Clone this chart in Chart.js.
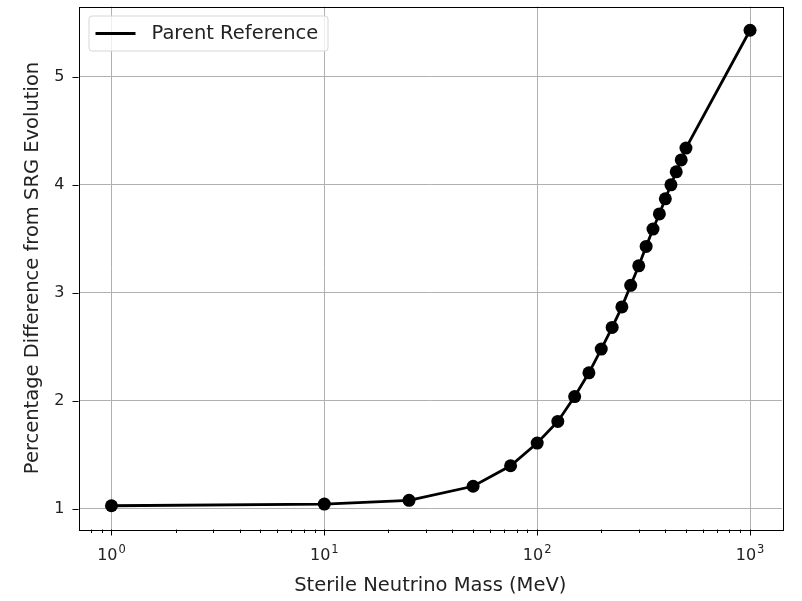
<!DOCTYPE html>
<html lang="en">
<head>
    <meta charset="UTF-8">
    <title>Percentage Difference from SRG Evolution</title>
    <script src="https://cdn.jsdelivr.net/npm/chart.js"></script>
    <style>
        body {
            margin: 0;
            padding: 0;
            background-color: #fff;
        }
        #chart-box {
            width: 802px;
            height: 601px;
        }
    </style>
</head>
<body>
    <div id="chart-box">
        <canvas id="srg-chart"></canvas>
    </div>

    <script>
        // sterile neutrino masses (MeV) and percentage difference
        const masses = [1, 10, 25, 50, 75, 100, 125, 150, 175, 200, 225, 250, 275, 300,
                        325, 350, 375, 400, 425, 450, 475, 500, 1000];
        const pctDiff = [1.03, 1.045, 1.08, 1.21, 1.40, 1.61, 1.81, 2.04, 2.26, 2.48, 2.68,
                         2.87, 3.07, 3.25, 3.43, 3.59, 3.73, 3.87, 4.00, 4.12, 4.23, 4.34, 5.43];
        const yTicks = [1, 2, 3, 4, 5];
        const xMajor = [1, 10, 100, 1000];
        const xExp = ['0', '1', '2', '3'];

        const FONT = 'DejaVu Sans';
        const X_MIN = 0.708, X_MAX = 1413;
        const Y_MIN = 0.81, Y_MAX = 5.65;

        const isMajor = v => xMajor.includes(v);

        // matplotlib-like outward tick marks, 10^n labels, frame and legend box
        const decorPlugin = {
            id: 'decor',
            afterDraw(chart) {
                const ctx = chart.ctx;
                const xs = chart.scales.x, ys = chart.scales.y;
                const area = chart.chartArea;
                ctx.save();
                ctx.strokeStyle = '#000';
                ctx.lineWidth = 1;
                // x ticks (major + minor)
                for (let d = -1; d <= 3; d++) {
                    for (let m = 1; m <= 9; m++) {
                        const v = m * Math.pow(10, d);
                        if (v < X_MIN || v > X_MAX) continue;
                        const px = Math.round(xs.getPixelForValue(v)) + 0.5;
                        const len = m === 1 ? 6 : 3.5;
                        ctx.beginPath();
                        ctx.moveTo(px, area.bottom);
                        ctx.lineTo(px, area.bottom + len);
                        ctx.stroke();
                    }
                }
                // x labels as 10 with raised exponent
                ctx.fillStyle = '#222';
                ctx.textBaseline = 'alphabetic';
                xMajor.forEach((v, i) => {
                    const px = xs.getPixelForValue(v);
                    ctx.font = '16px "' + FONT + '"';
                    const wBase = ctx.measureText('10').width;
                    ctx.font = '11.5px "' + FONT + '"';
                    const wExp = ctx.measureText(xExp[i]).width;
                    const x0 = px - (wBase + wExp + 1) / 2;
                    const base = area.bottom + 30;
                    ctx.font = '16px "' + FONT + '"';
                    ctx.fillText('10', x0, base);
                    ctx.font = '11.5px "' + FONT + '"';
                    ctx.fillText(xExp[i], x0 + wBase + 1, base - 7);
                });
                // y ticks
                yTicks.forEach(v => {
                    const py = Math.round(ys.getPixelForValue(v)) + 0.5;
                    ctx.beginPath();
                    ctx.moveTo(area.left, py);
                    ctx.lineTo(area.left - 6, py);
                    ctx.stroke();
                });
                // frame
                ctx.strokeRect(Math.round(area.left) + 0.5, Math.round(area.top) + 0.5,
                    Math.round(area.right - area.left), Math.round(area.bottom - area.top));

                // legend
                const lx = area.left + 10, ly = area.top + 9, lw = 239, lh = 35;
                ctx.fillStyle = 'rgba(255,255,255,0.8)';
                ctx.strokeStyle = '#d6d6d6';
                ctx.beginPath();
                ctx.roundRect(lx + 0.5, ly + 0.5, lw, lh, 3);
                ctx.fill();
                ctx.stroke();
                ctx.strokeStyle = '#000';
                ctx.lineWidth = 2.8;
                ctx.beginPath();
                ctx.moveTo(lx + 7, ly + 18);
                ctx.lineTo(lx + 47, ly + 18);
                ctx.stroke();
                ctx.fillStyle = '#222';
                ctx.font = '19.5px "' + FONT + '"';
                ctx.textBaseline = 'middle';
                ctx.fillText(chart.data.datasets[0].label, lx + 63, ly + 18);
                ctx.restore();
            }
        };

        const ctx = document.getElementById('srg-chart').getContext('2d');
        const srgChart = new Chart(ctx, {
            type: 'scatter',
            data: {
                datasets: [{
                    label: 'Parent Reference',
                    data: masses.map((m, i) => ({ x: m, y: pctDiff[i] })),
                    showLine: true,
                    borderColor: '#000',
                    backgroundColor: '#000',
                    borderWidth: 2.8,
                    pointRadius: 6.5,
                    pointBorderWidth: 0,
                    pointHoverRadius: 6.5
                }]
            },
            options: {
                responsive: true,
                maintainAspectRatio: false,
                animation: false,
                layout: { padding: { top: 0, right: 20, left: 0, bottom: 0 } },
                plugins: {
                    legend: { display: false },
                    tooltip: { enabled: false }
                },
                scales: {
                    x: {
                        type: 'logarithmic',
                        min: X_MIN,
                        max: X_MAX,
                        afterFit: s => {
                            s.height = 71.5;
                            s.paddingLeft = 0;
                            s.paddingRight = 0;
                        },
                        grid: {
                            drawTicks: false,
                            color: c => isMajor(c.tick && c.tick.value) ? '#b0b0b0' : 'rgba(0,0,0,0)',
                            lineWidth: 1
                        },
                        border: { display: false },
                        ticks: {
                            autoSkip: false,
                            maxRotation: 0,
                            padding: 13,
                            font: { family: FONT, size: 16 },
                            callback: () => ''
                        },
                        afterBuildTicks: s => {
                            const t = [];
                            for (let d = -1; d <= 3; d++) {
                                for (let m = 1; m <= 9; m++) {
                                    const v = m * Math.pow(10, d);
                                    if (v >= X_MIN && v <= X_MAX) t.push({ value: v, major: m === 1 });
                                }
                            }
                            s.ticks = t;
                        },
                        title: {
                            display: true,
                            text: 'Sterile Neutrino Mass (MeV)',
                            color: '#222',
                            font: { family: FONT, size: 19.5 },
                            padding: { top: 0, bottom: 3 }
                        }
                    },
                    y: {
                        min: Y_MIN,
                        max: Y_MAX,
                        afterFit: s => {
                            s.width = 78.5;
                            s.paddingTop = 0;
                            s.paddingBottom = 0;
                        },
                        afterBuildTicks: s => { s.ticks = yTicks.map(v => ({ value: v })); },
                        grid: {
                            drawTicks: false,
                            color: '#b0b0b0',
                            lineWidth: 1
                        },
                        border: { display: false },
                        ticks: {
                            padding: 14,
                            color: '#222',
                            font: { family: FONT, size: 16 }
                        },
                        title: {
                            display: true,
                            text: 'Percentage Difference from SRG Evolution',
                            color: '#222',
                            font: { family: FONT, size: 19.5 },
                            padding: { top: 21, bottom: 0 }
                        }
                    }
                }
            },
            plugins: [decorPlugin]
        });
    </script>
</body>
</html>
